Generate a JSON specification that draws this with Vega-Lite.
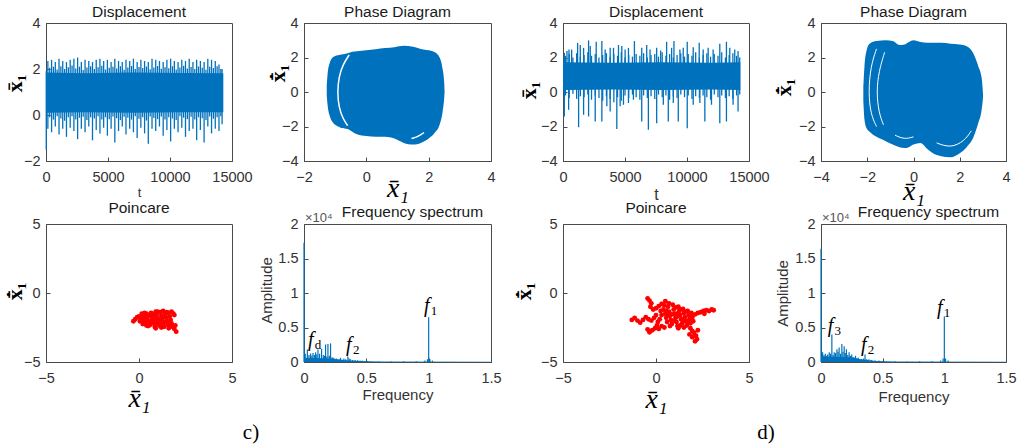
{
"$schema": "https://vega.github.io/schema/vega-lite/v6.json",
"autosize": {"type": "none"},
"padding": {"left": 46, "top": 23, "right": 980, "bottom": 424},
"background": "white",
"columns": 4,
"spacing": {"row": 63, "column": 72},
"bounds": "flush",
"datasets": {
"dispC_core": [{"t":0,"lo":0.1,"hi":1.85},{"t":3000,"lo":0.12,"hi":1.82},{"t":7000,"lo":0.1,"hi":1.85},{"t":11000,"lo":0.12,"hi":1.83},{"t":14300,"lo":0.12,"hi":1.82}],
"dispC": [{"t":20,"lo":-1.5,"hi":1.9},
{"t":150,"hi":2.35,"lo":-0.6},{"t":450,"hi":2.4,"lo":-0.75},{"t":750,"hi":2.3,"lo":-0.5},{"t":1050,"hi":2.45,"lo":-0.85},{"t":1350,"hi":2.35,"lo":-0.6},{"t":1650,"hi":2.3,"lo":-0.95},{"t":1950,"hi":2.4,"lo":-0.55},{"t":2250,"hi":2.45,"lo":-0.7},{"t":2550,"hi":2.5,"lo":-1.05},{"t":2850,"hi":2.3,"lo":-0.6},{"t":3150,"hi":2.4,"lo":-0.75},{"t":3450,"hi":2.35,"lo":-0.5},{"t":3750,"hi":2.3,"lo":-1.1},{"t":4050,"hi":2.4,"lo":-0.65},{"t":4350,"hi":2.45,"lo":-0.8},{"t":4650,"hi":2.35,"lo":-0.55},{"t":4950,"hi":2.4,"lo":-0.9},{"t":5250,"hi":2.3,"lo":-0.6},{"t":5550,"hi":2.45,"lo":-1.2},{"t":5850,"hi":2.35,"lo":-0.7},{"t":6150,"hi":2.3,"lo":-0.5},{"t":6450,"hi":2.4,"lo":-0.85},{"t":6750,"hi":2.35,"lo":-0.6},{"t":7050,"hi":2.45,"lo":-0.75},{"t":7350,"hi":2.3,"lo":-1.0},{"t":7650,"hi":2.4,"lo":-0.55},{"t":7950,"hi":2.35,"lo":-0.8},{"t":8250,"hi":2.3,"lo":-1.25},{"t":8550,"hi":2.45,"lo":-0.6},{"t":8850,"hi":2.4,"lo":-0.7},{"t":9150,"hi":2.35,"lo":-0.5},{"t":9450,"hi":2.3,"lo":-0.9},{"t":9750,"hi":2.4,"lo":-0.65},{"t":10050,"hi":2.45,"lo":-1.15},{"t":10350,"hi":2.35,"lo":-0.6},{"t":10650,"hi":2.3,"lo":-0.75},{"t":10950,"hi":2.4,"lo":-0.55},{"t":11250,"hi":2.35,"lo":-0.95},{"t":11550,"hi":2.45,"lo":-0.7},{"t":11850,"hi":2.3,"lo":-0.6},{"t":12150,"hi":2.4,"lo":-1.1},{"t":12450,"hi":2.35,"lo":-0.65},{"t":12750,"hi":2.3,"lo":-1.2},{"t":13050,"hi":2.45,"lo":-0.5},{"t":13350,"hi":2.4,"lo":-0.8},{"t":13650,"hi":2.35,"lo":-0.6},{"t":13950,"hi":2.2,"lo":-0.7},{"t":14200,"hi":2.0,"lo":-0.4},
{"t":300,"hi":2.05,"lo":-0.1},{"t":600,"hi":2.1,"lo":-0.2},{"t":900,"hi":1.98,"lo":-0.05},{"t":1200,"hi":2.12,"lo":-0.15},{"t":1500,"hi":2.0,"lo":-0.25},{"t":1800,"hi":2.08,"lo":-0.1},{"t":2100,"hi":2.15,"lo":-0.05},{"t":2400,"hi":2.02,"lo":-0.2},{"t":2700,"hi":2.1,"lo":-0.12},{"t":3000,"hi":1.96,"lo":-0.08},{"t":3300,"hi":2.06,"lo":-0.22},{"t":3600,"hi":2.12,"lo":-0.1},{"t":3900,"hi":2.0,"lo":-0.15},{"t":4200,"hi":2.08,"lo":-0.05},{"t":4500,"hi":2.14,"lo":-0.2},{"t":4800,"hi":1.98,"lo":-0.1},{"t":5100,"hi":2.05,"lo":-0.18},{"t":5400,"hi":2.1,"lo":-0.06},{"t":5700,"hi":2.02,"lo":-0.14},{"t":6000,"hi":2.12,"lo":-0.22},{"t":6300,"hi":1.97,"lo":-0.08},{"t":6600,"hi":2.07,"lo":-0.12},{"t":6900,"hi":2.13,"lo":-0.2},{"t":7200,"hi":2.0,"lo":-0.05},{"t":7500,"hi":2.09,"lo":-0.16},{"t":7800,"hi":2.04,"lo":-0.1},{"t":8100,"hi":2.11,"lo":-0.24},{"t":8400,"hi":1.99,"lo":-0.07},{"t":8700,"hi":2.06,"lo":-0.13},{"t":9000,"hi":2.13,"lo":-0.18},{"t":9300,"hi":2.01,"lo":-0.06},{"t":9600,"hi":2.08,"lo":-0.2},{"t":9900,"hi":2.03,"lo":-0.1},{"t":10200,"hi":2.12,"lo":-0.15},{"t":10500,"hi":1.98,"lo":-0.22},{"t":10800,"hi":2.07,"lo":-0.05},{"t":11100,"hi":2.14,"lo":-0.12},{"t":11400,"hi":2.02,"lo":-0.18},{"t":11700,"hi":2.09,"lo":-0.08},{"t":12000,"hi":2.0,"lo":-0.2},{"t":12300,"hi":2.11,"lo":-0.1},{"t":12600,"hi":2.05,"lo":-0.14},{"t":12900,"hi":1.97,"lo":-0.22},{"t":13200,"hi":2.1,"lo":-0.07},{"t":13500,"hi":2.04,"lo":-0.16},{"t":13800,"hi":2.12,"lo":-0.1},{"t":14100,"hi":2.0,"lo":-0.05}],
"dispD_core": [{"t":0,"lo":0.12,"hi":1.72},{"t":4000,"lo":0.15,"hi":1.7},{"t":8000,"lo":0.12,"hi":1.72},{"t":12000,"lo":0.14,"hi":1.7},{"t":14300,"lo":0.12,"hi":1.72}],
"dispD": [{"t":107,"lo":1,"hi":2.27},{"t":321,"lo":1,"hi":2.37},{"t":482,"lo":1,"hi":2.46},{"t":697,"lo":1,"hi":2.46},{"t":1179,"lo":1,"hi":2.85},{"t":1393,"lo":1,"hi":2.72},{"t":1661,"lo":1,"hi":2.56},{"t":2063,"lo":1,"hi":2.99},{"t":2197,"lo":1,"hi":2.66},{"t":2679,"lo":1,"hi":2.91},{"t":3134,"lo":1,"hi":2.95},{"t":3402,"lo":1,"hi":2.46},{"t":3804,"lo":1,"hi":2.56},{"t":4072,"lo":1,"hi":2.56},{"t":4474,"lo":1,"hi":2.72},{"t":4742,"lo":1,"hi":2.66},{"t":5010,"lo":1,"hi":2.46},{"t":5278,"lo":1,"hi":2.56},{"t":5760,"lo":1,"hi":2.95},{"t":6349,"lo":1,"hi":2.56},{"t":6751,"lo":1,"hi":2.72},{"t":7019,"lo":1,"hi":2.46},{"t":7555,"lo":1,"hi":2.56},{"t":7876,"lo":1,"hi":2.41},{"t":8358,"lo":1,"hi":2.91},{"t":8760,"lo":1,"hi":2.56},{"t":8948,"lo":1,"hi":2.95},{"t":9430,"lo":1,"hi":2.46},{"t":9698,"lo":1,"hi":2.56},{"t":10019,"lo":1,"hi":2.91},{"t":10502,"lo":1,"hi":2.6},{"t":10984,"lo":1,"hi":2.85},{"t":11305,"lo":1,"hi":2.46},{"t":11707,"lo":1,"hi":2.56},{"t":12109,"lo":1,"hi":2.46},{"t":12645,"lo":1,"hi":2.8},{"t":13181,"lo":1,"hi":2.91},{"t":13449,"lo":1,"hi":2.56},{"t":13851,"lo":1,"hi":2.46},{"t":14118,"lo":1,"hi":2.37},
{"t":107,"hi":1,"lo":-1.42},{"t":455,"hi":1,"lo":-1.03},{"t":1259,"hi":1,"lo":-2.04},{"t":1661,"hi":1,"lo":-1.32},{"t":2063,"hi":1,"lo":-1.42},{"t":2599,"hi":1,"lo":-1.71},{"t":3134,"hi":1,"lo":-1.71},{"t":3536,"hi":1,"lo":-0.83},{"t":3804,"hi":1,"lo":-1.13},{"t":4340,"hi":1,"lo":-2.14},{"t":4608,"hi":1,"lo":-0.83},{"t":4876,"hi":1,"lo":-0.74},{"t":5278,"hi":1,"lo":-0.64},{"t":5680,"hi":1,"lo":-0.45},{"t":6349,"hi":1,"lo":-1.71},{"t":6885,"hi":1,"lo":-2.19},{"t":7555,"hi":1,"lo":-1.81},{"t":8090,"hi":1,"lo":-0.74},{"t":8492,"hi":1,"lo":-1.71},{"t":8894,"hi":1,"lo":-0.64},{"t":9296,"hi":1,"lo":-1.71},{"t":10019,"hi":1,"lo":-2.1},{"t":10502,"hi":1,"lo":-0.74},{"t":11037,"hi":1,"lo":-0.64},{"t":11439,"hi":1,"lo":-1.71},{"t":11975,"hi":1,"lo":-0.74},{"t":12645,"hi":1,"lo":-1.81},{"t":13181,"hi":1,"lo":-1.71},{"t":13717,"hi":1,"lo":-0.74},{"t":14118,"hi":1,"lo":-1.13},
{"t":200,"hi":2.1,"lo":-0.2},{"t":500,"hi":2.2,"lo":-0.35},{"t":800,"hi":2.0,"lo":-0.1},{"t":1100,"hi":2.25,"lo":-0.4},{"t":1400,"hi":2.05,"lo":-0.25},{"t":1700,"hi":2.15,"lo":-0.3},{"t":2000,"hi":2.3,"lo":-0.15},{"t":2300,"hi":2.1,"lo":-0.45},{"t":2600,"hi":2.2,"lo":-0.2},{"t":2900,"hi":2.0,"lo":-0.35},{"t":3200,"hi":2.15,"lo":-0.5},{"t":3500,"hi":2.25,"lo":-0.25},{"t":3800,"hi":2.05,"lo":-0.4},{"t":4100,"hi":2.2,"lo":-0.6},{"t":4400,"hi":2.1,"lo":-0.3},{"t":4700,"hi":2.3,"lo":-0.5},{"t":5000,"hi":2.0,"lo":-0.2},{"t":5300,"hi":2.15,"lo":-0.35},{"t":5600,"hi":2.05,"lo":-0.15},{"t":5900,"hi":2.2,"lo":-0.3},{"t":6200,"hi":2.1,"lo":-0.45},{"t":6500,"hi":2.25,"lo":-0.2},{"t":6800,"hi":2.0,"lo":-0.35},{"t":7100,"hi":2.15,"lo":-0.25},{"t":7400,"hi":2.2,"lo":-0.4},{"t":7700,"hi":2.05,"lo":-0.15},{"t":8000,"hi":2.3,"lo":-0.3},{"t":8300,"hi":2.1,"lo":-0.2},{"t":8600,"hi":2.2,"lo":-0.45},{"t":8900,"hi":2.0,"lo":-0.25},{"t":9200,"hi":2.15,"lo":-0.35},{"t":9500,"hi":2.25,"lo":-0.15},{"t":9800,"hi":2.05,"lo":-0.3},{"t":10100,"hi":2.2,"lo":-0.2},{"t":10400,"hi":2.1,"lo":-0.4},{"t":10700,"hi":2.3,"lo":-0.25},{"t":11000,"hi":2.0,"lo":-0.35},{"t":11300,"hi":2.15,"lo":-0.2},{"t":11600,"hi":2.25,"lo":-0.3},{"t":11900,"hi":2.05,"lo":-0.45},{"t":12200,"hi":2.2,"lo":-0.15},{"t":12500,"hi":2.1,"lo":-0.3},{"t":12800,"hi":2.3,"lo":-0.2},{"t":13100,"hi":2.0,"lo":-0.35},{"t":13400,"hi":2.15,"lo":-0.25},{"t":13700,"hi":2.25,"lo":-0.4},{"t":14000,"hi":2.1,"lo":-0.2},{"t":14250,"hi":2.0,"lo":-0.15}],
"phaseC": [{"x":-1.27,"y":0.4,"ylo":-0.2},{"x":-1.24,"y":1.1,"ylo":-0.8},{"x":-1.18,"y":1.65,"ylo":-1.35},{"x":-1.08,"y":2.0,"ylo":-1.75},{"x":-0.95,"y":2.12,"ylo":-1.95},{"x":-0.8,"y":2.18,"ylo":-2.08},{"x":-0.6,"y":2.25,"ylo":-2.15},{"x":-0.45,"y":2.33,"ylo":-2.3},{"x":-0.3,"y":2.36,"ylo":-2.45},{"x":0.0,"y":2.42,"ylo":-2.55},{"x":0.3,"y":2.48,"ylo":-2.6},{"x":0.6,"y":2.55,"ylo":-2.6},{"x":0.9,"y":2.6,"ylo":-2.7},{"x":1.2,"y":2.68,"ylo":-2.95},{"x":1.5,"y":2.62,"ylo":-3.05},{"x":1.75,"y":2.5,"ylo":-2.95},{"x":2.0,"y":2.42,"ylo":-2.7},{"x":2.2,"y":2.3,"ylo":-2.35},{"x":2.35,"y":2.0,"ylo":-1.9},{"x":2.45,"y":1.3,"ylo":-1.1},{"x":2.5,"y":0.5,"ylo":-0.3},{"x":2.51,"y":0.1,"ylo":0.0}],
"phaseC_w": [{"arc":"a","o":1,"x":-0.55,"y":2.15},{"arc":"a","o":2,"x":-0.75,"y":1.6},{"arc":"a","o":3,"x":-0.88,"y":0.9},{"arc":"a","o":4,"x":-0.93,"y":0.0},{"arc":"a","o":5,"x":-0.88,"y":-0.9},{"arc":"a","o":6,"x":-0.75,"y":-1.55},{"arc":"a","o":7,"x":-0.6,"y":-1.95},{"arc":"b","o":1,"x":1.45,"y":-2.7},{"arc":"b","o":2,"x":1.65,"y":-2.6},{"arc":"b","o":3,"x":1.85,"y":-2.35}],
"phaseD": [{"x":-2.17,"y":0.3,"ylo":-0.5},{"x":-2.12,"y":1.5,"ylo":-1.6},{"x":-2.03,"y":2.4,"ylo":-2.1},{"x":-1.9,"y":2.8,"ylo":-2.3},{"x":-1.6,"y":2.95,"ylo":-2.6},{"x":-1.2,"y":3.0,"ylo":-2.85},{"x":-0.9,"y":2.95,"ylo":-3.05},{"x":-0.6,"y":2.72,"ylo":-3.2},{"x":-0.4,"y":2.75,"ylo":-3.25},{"x":-0.2,"y":2.9,"ylo":-3.2},{"x":0.0,"y":3.0,"ylo":-3.05},{"x":0.3,"y":2.9,"ylo":-2.95},{"x":0.6,"y":2.85,"ylo":-3.3},{"x":0.9,"y":2.85,"ylo":-3.6},{"x":1.2,"y":2.85,"ylo":-3.72},{"x":1.6,"y":2.8,"ylo":-3.78},{"x":2.0,"y":2.75,"ylo":-3.55},{"x":2.3,"y":2.65,"ylo":-3.2},{"x":2.6,"y":2.2,"ylo":-2.6},{"x":2.8,"y":1.5,"ylo":-1.8},{"x":2.95,"y":0.8,"ylo":-1.0},{"x":3.0,"y":0.0,"ylo":-0.4},{"x":3.01,"y":-0.2,"ylo":-0.2}],
"phaseD_w": [{"arc":"a","o":1,"x":-1.6,"y":2.5},{"arc":"a","o":2,"x":-1.85,"y":1.5},{"arc":"a","o":3,"x":-1.95,"y":0},{"arc":"a","o":4,"x":-1.85,"y":-1.3},{"arc":"a","o":5,"x":-1.6,"y":-2.0},{"arc":"b","o":1,"x":-1.25,"y":2.3},{"arc":"b","o":2,"x":-1.5,"y":1.2},{"arc":"b","o":3,"x":-1.6,"y":0},{"arc":"b","o":4,"x":-1.5,"y":-1.2},{"arc":"b","o":5,"x":-1.3,"y":-1.9},{"arc":"c","o":1,"x":-0.8,"y":-2.5},{"arc":"c","o":2,"x":-0.4,"y":-2.75},{"arc":"c","o":3,"x":0.0,"y":-2.6},{"arc":"d","o":1,"x":1.0,"y":-2.95},{"arc":"d","o":2,"x":1.6,"y":-3.25},{"arc":"d","o":3,"x":2.2,"y":-2.85},{"arc":"d","o":4,"x":2.5,"y":-2.25}],
"poinC": [{"x":-0.3,"y":-2.05},{"x":-0.2,"y":-1.9},{"x":-0.1,"y":-1.75},{"x":0,"y":-1.7},{"x":0.1,"y":-1.85},{"x":0.05,"y":-2.05},{"x":0.2,"y":-1.6},{"x":0.3,"y":-1.75},{"x":0.25,"y":-2.0},{"x":0.35,"y":-2.2},{"x":0.4,"y":-1.5},{"x":0.5,"y":-1.65},{"x":0.45,"y":-1.9},{"x":0.55,"y":-2.1},{"x":0.6,"y":-2.3},{"x":0.65,"y":-1.45},{"x":0.7,"y":-1.75},{"x":0.75,"y":-2.0},{"x":0.8,"y":-2.2},{"x":0.85,"y":-2.45},{"x":0.9,"y":-1.35},{"x":0.95,"y":-1.6},{"x":1.0,"y":-1.85},{"x":1.05,"y":-2.1},{"x":1.1,"y":-2.35},{"x":1.15,"y":-1.4},{"x":1.2,"y":-1.65},{"x":1.25,"y":-1.95},{"x":1.3,"y":-2.2},{"x":1.35,"y":-2.45},{"x":1.4,"y":-1.5},{"x":1.45,"y":-1.75},{"x":1.5,"y":-2.0},{"x":1.55,"y":-2.3},{"x":1.6,"y":-1.45},{"x":1.65,"y":-1.7},{"x":1.7,"y":-1.95},{"x":1.75,"y":-2.2},{"x":1.8,"y":-2.45},{"x":1.85,"y":-1.5},{"x":1.9,"y":-2.6},{"x":2.0,"y":-2.8},{"x":1.95,"y":-2.35},{"x":0.15,"y":-1.5},{"x":0.6,"y":-1.55},{"x":1.0,"y":-1.35},{"x":1.3,"y":-1.3},{"x":0.4,"y":-2.35},{"x":0.9,"y":-2.55},{"x":1.2,"y":-2.5},{"x":1.6,"y":-2.55},{"x":0.7,"y":-1.9},{"x":1.1,"y":-1.95},{"x":1.4,"y":-2.1},{"x":0.3,"y":-1.45},{"x":1.75,"y":-1.35},{"x":1.9,"y":-1.6},{"x":0.85,"y":-1.7},{"x":0.5,"y":-2.4},{"x":1.0,"y":-2.2},{"x":1.5,"y":-1.4},{"x":0.2,"y":-2.25},{"x":0.35,"y":-1.95},{"x":0.65,"y":-2.15},{"x":0.95,"y":-1.95},{"x":1.25,"y":-1.75},{"x":1.55,"y":-2.1},{"x":1.7,"y":-2.35},{"x":0.8,"y":-1.55},{"x":1.15,"y":-2.25}],
"poinD": [{"x":0.4,"y":-1.2},{"x":0.5,"y":-1.5},{"x":0.55,"y":-1.8},{"x":0.6,"y":-2.1},{"x":0.65,"y":-1.0},{"x":0.7,"y":-1.35},{"x":0.75,"y":-1.65},{"x":0.8,"y":-1.95},{"x":0.85,"y":-2.25},{"x":0.9,"y":-0.85},{"x":0.95,"y":-1.2},{"x":1.0,"y":-1.5},{"x":1.05,"y":-1.8},{"x":1.1,"y":-2.1},{"x":1.15,"y":-2.4},{"x":1.2,"y":-1.0},{"x":1.25,"y":-1.3},{"x":1.3,"y":-1.6},{"x":1.35,"y":-1.9},{"x":1.4,"y":-2.2},{"x":1.45,"y":-1.15},{"x":1.5,"y":-1.45},{"x":1.55,"y":-1.75},{"x":1.6,"y":-2.05},{"x":1.65,"y":-2.35},{"x":1.7,"y":-1.3},{"x":1.75,"y":-1.6},{"x":1.8,"y":-1.9},{"x":1.85,"y":-2.2},{"x":1.9,"y":-1.45},{"x":1.95,"y":-1.75},{"x":2.0,"y":-2.05},{"x":0.3,"y":-1.6},{"x":0.2,"y":-1.9},{"x":0.1,"y":-2.1},{"x":0.25,"y":-1.3},{"x":1.05,"y":-1.05},{"x":1.3,"y":-1.2},{"x":0.75,"y":-2.4},{"x":1.5,"y":-2.5},{"x":1.2,"y":-2.55},{"x":-1.3,"y":-1.95},{"x":-1.15,"y":-1.8},{"x":-1.0,"y":-2.0},{"x":-0.85,"y":-2.15},{"x":-0.7,"y":-1.95},{"x":-0.55,"y":-1.75},{"x":-0.4,"y":-1.9},{"x":-0.25,"y":-2.0},{"x":-0.1,"y":-1.8},{"x":0.0,"y":-1.6},{"x":-0.45,"y":-0.4},{"x":-0.35,"y":-0.55},{"x":-0.25,"y":-0.75},{"x":-0.3,"y":-1.0},{"x":-0.15,"y":-1.2},{"x":0.0,"y":-1.1},{"x":0.15,"y":-0.95},{"x":0.3,"y":-0.8},{"x":0.5,"y":-0.6},{"x":0.45,"y":-0.9},{"x":0.7,"y":-0.75},{"x":2.1,"y":-1.55},{"x":2.25,"y":-1.45},{"x":2.4,"y":-1.4},{"x":2.55,"y":-1.3},{"x":2.7,"y":-1.25},{"x":2.85,"y":-1.3},{"x":3.0,"y":-1.2},{"x":3.1,"y":-1.25},{"x":2.6,"y":-1.5},{"x":1.85,"y":-2.55},{"x":1.95,"y":-2.75},{"x":2.05,"y":-2.9},{"x":2.15,"y":-3.1},{"x":2.2,"y":-3.35},{"x":2.1,"y":-3.5},{"x":1.95,"y":-3.2},{"x":1.8,"y":-3.0},{"x":2.25,"y":-2.7},{"x":-0.35,"y":-2.85},{"x":-0.2,"y":-2.7},{"x":-0.05,"y":-2.55},{"x":0.15,"y":-2.6},{"x":0.3,"y":-2.4},{"x":0.45,"y":-2.5},{"x":-0.45,"y":-2.65},{"x":0.05,"y":-2.35},{"x":0.55,"y":-1.3},{"x":0.85,"y":-1.55},{"x":1.15,"y":-1.7},{"x":1.45,"y":-1.95},{"x":1.75,"y":-2.1},{"x":1.0,"y":-2.0},{"x":1.3,"y":-2.35},{"x":0.6,"y":-1.6},{"x":1.6,"y":-1.35},{"x":1.2,"y":-1.45}],
"labC": [{"x":6.02,"y":-10.14,"lab":"c)"}],
"labD": [{"x":5.91,"y":-10.14,"lab":"d)"}],
"freqC": [{"f":0,"amp":1.73},{"f":0.01,"amp":0.12},{"f":0.027,"amp":0.18},{"f":0.04,"amp":0.1},{"f":0.053,"amp":0.125},{"f":0.063,"amp":0.09},{"f":0.072,"amp":0.13},{"f":0.083,"amp":0.1},{"f":0.093,"amp":0.14},{"f":0.103,"amp":0.11},{"f":0.112,"amp":0.18},{"f":0.125,"amp":0.12},{"f":0.141,"amp":0.19},{"f":0.155,"amp":0.1},{"f":0.165,"amp":0.09},{"f":0.173,"amp":0.255},{"f":0.183,"amp":0.08},{"f":0.192,"amp":0.26},{"f":0.203,"amp":0.09},{"f":0.213,"amp":0.27},{"f":0.225,"amp":0.07},{"f":0.235,"amp":0.06},{"f":0.245,"amp":0.05},{"f":0.26,"amp":0.05},{"f":0.272,"amp":0.04},{"f":0.283,"amp":0.04},{"f":0.293,"amp":0.06},{"f":0.305,"amp":0.035},{"f":0.32,"amp":0.05},{"f":0.335,"amp":0.04},{"f":0.352,"amp":0.08},{"f":0.362,"amp":0.05},{"f":0.373,"amp":0.04},{"f":0.39,"amp":0.03},{"f":0.41,"amp":0.03},{"f":0.43,"amp":0.025},{"f":0.45,"amp":0.02},{"f":0.47,"amp":0.02},{"f":0.51,"amp":0.015},{"f":0.6,"amp":0.01},{"f":0.7,"amp":0.008},{"f":0.8,"amp":0.01},{"f":0.9,"amp":0.012},{"f":0.97,"amp":0.02},{"f":0.99,"amp":0.04},{"f":1.0,"amp":0.65},{"f":1.01,"amp":0.04},{"f":1.03,"amp":0.02}],
"grassC": [{"f":0,"amp":0.06},{"f":0.22,"amp":0.05},{"f":0.3,"amp":0.03},{"f":0.45,"amp":0.015},{"f":0.6,"amp":0.006},{"f":1.5,"amp":0.004}],
"annC": [{"f":0.985,"amp":0.72,"sub":"1"},{"f":0.054,"amp":0.23,"sub":"d"},{"f":0.36,"amp":0.155,"sub":"2"}],
"freqD": [{"f":0,"amp":1.64},{"f":0.013,"amp":0.14},{"f":0.024,"amp":0.1},{"f":0.035,"amp":0.12},{"f":0.045,"amp":0.09},{"f":0.054,"amp":0.11},{"f":0.067,"amp":0.14},{"f":0.077,"amp":0.12},{"f":0.088,"amp":0.4},{"f":0.098,"amp":0.1},{"f":0.107,"amp":0.14},{"f":0.118,"amp":0.13},{"f":0.129,"amp":0.185},{"f":0.138,"amp":0.15},{"f":0.147,"amp":0.21},{"f":0.158,"amp":0.12},{"f":0.169,"amp":0.26},{"f":0.178,"amp":0.15},{"f":0.188,"amp":0.23},{"f":0.197,"amp":0.13},{"f":0.206,"amp":0.185},{"f":0.217,"amp":0.1},{"f":0.228,"amp":0.14},{"f":0.238,"amp":0.09},{"f":0.249,"amp":0.11},{"f":0.26,"amp":0.07},{"f":0.27,"amp":0.06},{"f":0.28,"amp":0.09},{"f":0.29,"amp":0.05},{"f":0.303,"amp":0.06},{"f":0.315,"amp":0.045},{"f":0.33,"amp":0.04},{"f":0.345,"amp":0.05},{"f":0.357,"amp":0.11},{"f":0.37,"amp":0.04},{"f":0.389,"amp":0.04},{"f":0.41,"amp":0.03},{"f":0.44,"amp":0.02},{"f":0.47,"amp":0.02},{"f":0.5,"amp":0.012},{"f":0.6,"amp":0.01},{"f":0.7,"amp":0.008},{"f":0.8,"amp":0.01},{"f":0.9,"amp":0.012},{"f":0.97,"amp":0.02},{"f":0.99,"amp":0.05},{"f":1.0,"amp":0.66},{"f":1.01,"amp":0.05},{"f":1.03,"amp":0.02}],
"grassD": [{"f":0,"amp":0.08},{"f":0.25,"amp":0.07},{"f":0.32,"amp":0.04},{"f":0.45,"amp":0.015},{"f":0.6,"amp":0.006},{"f":1.5,"amp":0.004}],
"annD": [{"f":0.963,"amp":0.7,"sub":"1"},{"f":0.078,"amp":0.44,"sub":"3"},{"f":0.346,"amp":0.16,"sub":"2"}],
"tenC": [{"f":0,"amp":2,"lab":"×10⁴"}]
},
"concat": [
{"width":186,"height":138,"title":{"text":"Displacement","offset":-5},
 "encoding":{
  "x":{"field":"t","type":"quantitative","scale":{"domain":[0,15000],"nice":false},"axis":{"values":[0,5000,10000,15000],"format":"d","title":"t","titleFontSize":13,"titleY":35,"titleBaseline":"alphabetic"}},
  "y":{"field":"hi","type":"quantitative","scale":{"domain":[-2,4],"nice":false},"axis":{"values":[-2,0,2,4],"title":"x̄₁","titleFont":"Liberation Serif","titleFontSize":22,"titleFontWeight":"bold","titleColor":"#000000","titleX":-32,"titleY":60,"titleBaseline":"middle"}},
  "y2":{"field":"lo"}},
 "layer":[
  {"data":{"name":"dispC_core"},"mark":{"type":"area","color":"#0072BD"}},
  {"data":{"name":"dispC"},"mark":{"type":"rule","color":"#0072BD","strokeWidth":1.3}}
 ]},
{"width":187,"height":138,"title":{"text":"Phase Diagram","offset":-5},
 "encoding":{
  "x":{"field":"x","type":"quantitative","scale":{"domain":[-2,4],"nice":false},"axis":{"values":[-2,0,2,4],"title":"x̄₁","titleFont":"Liberation Serif","titleFontStyle":"italic","titleFontSize":28,"titleColor":"#000000","titleY":35,"titleBaseline":"alphabetic"}},
  "y":{"field":"y","type":"quantitative","scale":{"domain":[-4,4],"nice":false},"axis":{"values":[-4,-2,0,2,4],"title":"x̄̇₁","titleFont":"Liberation Serif","titleFontSize":22,"titleFontWeight":"bold","titleColor":"#000000","titleX":-27,"titleY":50,"titleBaseline":"middle"}}},
 "layer":[
  {"data":{"name":"phaseC"},"mark":{"type":"area","color":"#0072BD","interpolate":"monotone"},"encoding":{"y2":{"field":"ylo"}}},
  {"data":{"name":"phaseC_w"},"mark":{"type":"line","color":"white","strokeWidth":1.5,"interpolate":"basis"},"encoding":{"detail":{"field":"arc"},"order":{"field":"o"}}}
 ]},
{"width":186,"height":138,"title":{"text":"Displacement","offset":-5},
 "encoding":{
  "x":{"field":"t","type":"quantitative","scale":{"domain":[0,15000],"nice":false},"axis":{"values":[0,5000,10000,15000],"format":"d","title":"t","titleFontSize":16,"titleY":38,"titleBaseline":"alphabetic"}},
  "y":{"field":"hi","type":"quantitative","scale":{"domain":[-4,4],"nice":false},"axis":{"values":[-4,-2,0,2,4],"title":"x̄₁","titleFont":"Liberation Serif","titleFontSize":22,"titleFontWeight":"bold","titleColor":"#000000","titleX":-35,"titleY":67,"titleBaseline":"middle"}},
  "y2":{"field":"lo"}},
 "layer":[
  {"data":{"name":"dispD_core"},"mark":{"type":"area","color":"#0072BD"}},
  {"data":{"name":"dispD"},"mark":{"type":"rule","color":"#0072BD","strokeWidth":1.3}}
 ]},
{"width":185,"height":138,"title":{"text":"Phase Diagram","offset":-5},
 "encoding":{
  "x":{"field":"x","type":"quantitative","scale":{"domain":[-4,4],"nice":false},"axis":{"values":[-4,-2,0,2,4],"title":"x̄₁","titleFont":"Liberation Serif","titleFontStyle":"italic","titleFontSize":28,"titleColor":"#000000","titleY":38,"titleBaseline":"alphabetic"}},
  "y":{"field":"y","type":"quantitative","scale":{"domain":[-4,4],"nice":false},"axis":{"values":[-4,-2,0,2,4],"title":"x̄̇₁","titleFont":"Liberation Serif","titleFontSize":22,"titleFontWeight":"bold","titleColor":"#000000","titleX":-38,"titleY":64,"titleBaseline":"middle"}}},
 "layer":[
  {"data":{"name":"phaseD"},"mark":{"type":"area","color":"#0072BD","interpolate":"monotone"},"encoding":{"y2":{"field":"ylo"}}},
  {"data":{"name":"phaseD_w"},"mark":{"type":"line","color":"white","strokeWidth":1,"interpolate":"basis"},"encoding":{"detail":{"field":"arc"},"order":{"field":"o"}}}
 ]},
{"width":186,"height":138,"title":{"text":"Poincare","offset":0},
 "encoding":{
  "x":{"field":"x","type":"quantitative","scale":{"domain":[-5,5],"nice":false},"axis":{"values":[-5,0,5],"title":"x̄₁","titleFont":"Liberation Serif","titleFontStyle":"italic","titleFontSize":28,"titleColor":"#000000","titleY":44,"titleBaseline":"alphabetic"}},
  "y":{"field":"y","type":"quantitative","scale":{"domain":[-5,5],"nice":false},"axis":{"values":[-5,0,5],"title":"x̄̇₁","titleFont":"Liberation Serif","titleFontSize":22,"titleFontWeight":"bold","titleColor":"#000000","titleX":-32,"titleY":67,"titleBaseline":"middle"}}},
 "layer":[
  {"data":{"name":"poinC"},"mark":{"type":"circle","color":"#FF0000","size":24,"opacity":1}},
  {"data":{"name":"labC"},"mark":{"type":"text","font":"Liberation Serif","fontSize":21,"color":"#000000","baseline":"middle","align":"center"},"encoding":{"text":{"field":"lab"}}}
 ]},
{"width":187,"height":138,"title":{"text":"Frequency spectrum","dx":15,"offset":-8},
 "encoding":{
  "x":{"field":"f","type":"quantitative","scale":{"domain":[0,1.5],"nice":false},"axis":{"values":[0,0.5,1,1.5],"format":"~g","title":"Frequency","titleFontSize":15,"titleY":37,"titleBaseline":"alphabetic"}},
  "y":{"field":"amp","type":"quantitative","scale":{"domain":[0,2],"nice":false},"axis":{"values":[0,0.5,1,1.5,2],"format":"~g","title":"Amplitude","titleFontSize":15,"titleX":-38,"titleY":66,"titleBaseline":"middle"}}},
 "layer":[
  {"data":{"name":"grassC"},"mark":{"type":"area","color":"#0072BD"}},
  {"data":{"name":"freqC"},"mark":{"type":"rule","color":"#0072BD","strokeWidth":1.2},"encoding":{"y2":{"datum":0}}},
  {"data":{"name":"annC"},"mark":{"type":"text","font":"Liberation Serif","fontStyle":"italic","fontSize":20,"color":"#000000","align":"center","baseline":"alphabetic"},"encoding":{"text":{"value":"f"}}},
  {"data":{"name":"annC"},"mark":{"type":"text","font":"Liberation Serif","fontSize":13,"color":"#000000","align":"left","baseline":"alphabetic","dx":4,"dy":3},"encoding":{"text":{"field":"sub"}}},
  {"data":{"name":"tenC"},"mark":{"type":"text","font":"Liberation Sans","fontSize":13,"color":"#555555","align":"left","baseline":"alphabetic","dx":1,"dy":-2},"encoding":{"text":{"field":"lab"}}}
 ]},
{"width":186,"height":138,"title":{"text":"Poincare","offset":0},
 "encoding":{
  "x":{"field":"x","type":"quantitative","scale":{"domain":[-5,5],"nice":false},"axis":{"values":[-5,0,5],"title":"x̄₁","titleFont":"Liberation Serif","titleFontStyle":"italic","titleFontSize":28,"titleColor":"#000000","titleY":45,"titleBaseline":"alphabetic"}},
  "y":{"field":"y","type":"quantitative","scale":{"domain":[-5,5],"nice":false},"axis":{"values":[-5,0,5],"title":"x̄̇₁","titleFont":"Liberation Serif","titleFontSize":22,"titleFontWeight":"bold","titleColor":"#000000","titleX":-40,"titleY":67,"titleBaseline":"middle"}}},
 "layer":[
  {"data":{"name":"poinD"},"mark":{"type":"circle","color":"#FF0000","size":24,"opacity":1}},
  {"data":{"name":"labD"},"mark":{"type":"text","font":"Liberation Serif","fontSize":21,"color":"#000000","baseline":"middle","align":"center"},"encoding":{"text":{"field":"lab"}}}
 ]},
{"width":185,"height":138,"title":{"text":"Frequency spectrum","dx":15,"offset":-8},
 "encoding":{
  "x":{"field":"f","type":"quantitative","scale":{"domain":[0,1.5],"nice":false},"axis":{"values":[0,0.5,1,1.5],"format":"~g","title":"Frequency","titleFontSize":15,"titleY":39,"titleBaseline":"alphabetic"}},
  "y":{"field":"amp","type":"quantitative","scale":{"domain":[0,2],"nice":false},"axis":{"values":[0,0.5,1,1.5,2],"format":"~g","title":"Amplitude","titleFontSize":15,"titleX":-39,"titleY":69,"titleBaseline":"middle"}}},
 "layer":[
  {"data":{"name":"grassD"},"mark":{"type":"area","color":"#0072BD"}},
  {"data":{"name":"freqD"},"mark":{"type":"rule","color":"#0072BD","strokeWidth":1.2},"encoding":{"y2":{"datum":0}}},
  {"data":{"name":"annD"},"mark":{"type":"text","font":"Liberation Serif","fontStyle":"italic","fontSize":20,"color":"#000000","align":"center","baseline":"alphabetic"},"encoding":{"text":{"value":"f"}}},
  {"data":{"name":"annD"},"mark":{"type":"text","font":"Liberation Serif","fontSize":13,"color":"#000000","align":"left","baseline":"alphabetic","dx":4,"dy":3},"encoding":{"text":{"field":"sub"}}},
  {"data":{"name":"tenC"},"mark":{"type":"text","font":"Liberation Sans","fontSize":13,"color":"#555555","align":"left","baseline":"alphabetic","dx":1,"dy":-2},"encoding":{"text":{"field":"lab"}}}
 ]}
],
"config": {
 "view": {"stroke": "#4a4a4a", "strokeWidth": 1},
 "axis": {"grid": false, "domainColor": "#4a4a4a", "tickColor": "#4a4a4a", "tickSize": -4, "labelFont": "Liberation Sans", "labelFontSize": 14.5, "labelColor": "#333333", "titleFont": "Liberation Sans", "titleFontWeight": "normal", "titleColor": "#333333", "labelFlush": false, "labelOverlap": false},
 "axisX": {"labelPadding": 13},
 "axisY": {"labelPadding": 10},
 "title": {"font": "Liberation Sans", "fontSize": 15.5, "fontWeight": "normal", "color": "#1a1a1a", "offset": 7}
}
}
